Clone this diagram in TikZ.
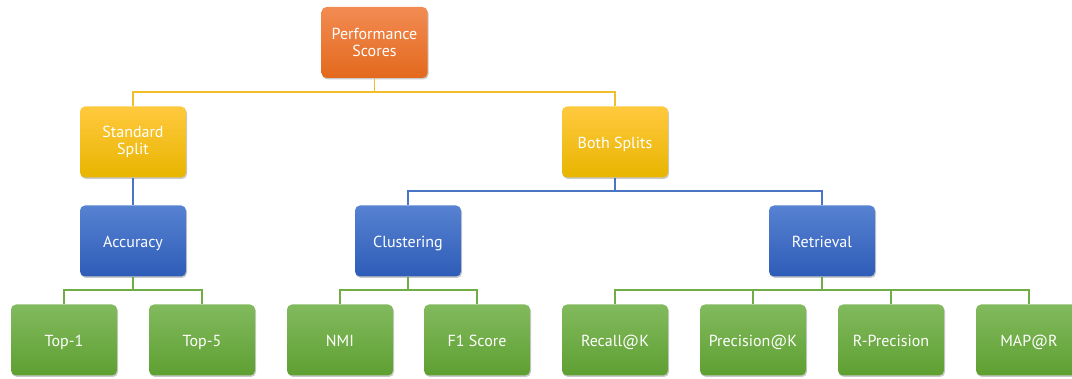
\documentclass[tikz,border=0pt]{standalone}
\usepackage{fontspec}
\setmainfont{PT Sans}
\usetikzlibrary{shadows}
\definecolor{orT}{HTML}{F28B52}
\definecolor{orB}{HTML}{E3691D}
\definecolor{yeT}{HTML}{FFC93E}
\definecolor{yeB}{HTML}{E8B500}
\definecolor{blT}{HTML}{5782D2}
\definecolor{blB}{HTML}{2E5CB7}
\definecolor{grT}{HTML}{82BA5E}
\definecolor{grB}{HTML}{5E9F31}
\definecolor{yeL}{HTML}{F2BE2A}
\definecolor{blL}{HTML}{4A74C4}
\definecolor{grL}{HTML}{71AD47}
\tikzset{
  box/.style={rounded corners=5pt, minimum width=106pt, minimum height=71pt, inner sep=0pt,
    align=center, text=white, font=\fontsize{16}{17}\selectfont,
    drop shadow={shadow xshift=1pt, shadow yshift=-1.5pt, opacity=0.35, fill=black!60}},
  oneline/.style={text height=15.5pt, text depth=1.8pt},
  orbox/.style={box, top color=orT, bottom color=orB},
  yebox/.style={box, top color=yeT, bottom color=yeB},
  blbox/.style={box, oneline, top color=blT, bottom color=blB},
  grbox/.style={box, oneline, top color=grT, bottom color=grB},
  yline/.style={draw=yeL, line width=1.2pt},
  bline/.style={draw=blL, line width=1.2pt},
  gline/.style={draw=grL, line width=1.2pt}
}
\begin{document}
\begin{tikzpicture}[x=1pt,y=-1pt]
\path[use as bounding box] (0,0) rectangle (1072,379);
\node[orbox] (ps) at (374.5,42.5) {Performance\\Scores};
\node[yebox] (ss) at (133,142) {Standard\\Split};
\node[yebox, oneline] (bs) at (615,142) {Both Splits};
\node[blbox] (acc) at (133,241) {Accuracy};
\node[blbox] (clu) at (408,241) {Clustering};
\node[blbox] (ret) at (822,241) {Retrieval};
\node[grbox] (t1) at (64,340) {Top-1};
\node[grbox] (t5) at (202,340) {Top-5};
\node[grbox] (nmi) at (340,340) {NMI};
\node[grbox] (f1) at (477,340) {F1 Score};
\node[grbox] (rk) at (615,340) {Recall@K};
\node[grbox] (pk) at (753,340) {Precision@K};
\node[grbox] (rp) at (891,340) {R-Precision};
\node[grbox] (map) at (1029,340) {MAP@R};
\coordinate (yl) at (0,92);
\coordinate (bl) at (0,191);
\coordinate (gl) at (0,290);
\draw[yline] (ps.south) -- (ps.south |- yl) -| (ss.north);
\draw[yline] (ps.south) -- (ps.south |- yl) -| (bs.north);
\draw[bline] (ss.south) -- (acc.north);
\draw[bline] (bs.south) -- (bs.south |- bl) -| (clu.north);
\draw[bline] (bs.south) -- (bs.south |- bl) -| (ret.north);
\foreach \c in {t1,t5} \draw[gline] (acc.south) -- (acc.south |- gl) -| (\c.north);
\foreach \c in {nmi,f1} \draw[gline] (clu.south) -- (clu.south |- gl) -| (\c.north);
\foreach \c in {rk,pk,rp,map} \draw[gline] (ret.south) -- (ret.south |- gl) -| (\c.north);
\end{tikzpicture}
\end{document}
